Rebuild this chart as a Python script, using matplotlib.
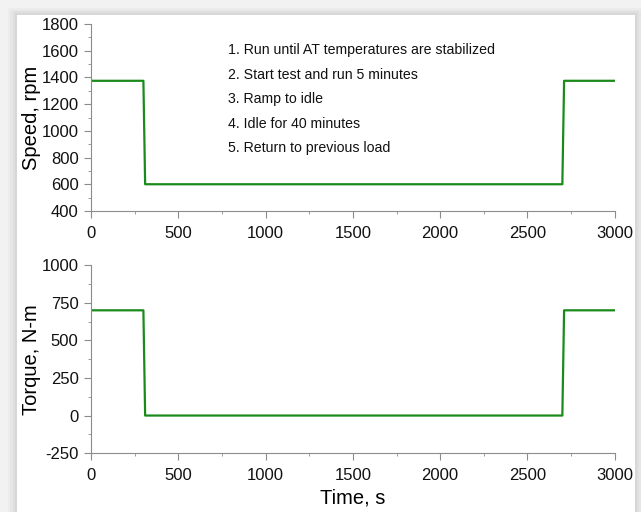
import matplotlib.pyplot as plt
from matplotlib.patches import Rectangle
from matplotlib.ticker import MultipleLocator

plt.rcParams['font.family'] = ['Liberation Sans', 'DejaVu Sans']
plt.rcParams['axes.unicode_minus'] = False

# test cycle: steady load, ramp to idle, idle, return to load
time_s = [0, 300, 310, 2700, 2710, 3000]
speed_rpm = [1375, 1375, 600, 600, 1375, 1375]
torque_nm = [700, 700, 0, 0, 700, 700]

steps = [
    "1. Run until AT temperatures are stabilized",
    "2. Start test and run 5 minutes",
    "3. Ramp to idle",
    "4. Idle for 40 minutes",
    "5. Return to previous load",
]

line_color = "#1a8a1a"
axis_color = "#8c8c8c"

fig = plt.figure(figsize=(6.41, 5.12), dpi=100, facecolor="#f2f2f2")

# white card with a soft shadow behind the plots
for i, a in enumerate([0.06, 0.07, 0.08, 0.10]):
    pad = 0.014 - i * 0.0035
    fig.patches.append(Rectangle((17 / 641 - pad, -0.1), (635 - 17) / 641 + 2 * pad,
                                 1 - 15 / 512 + 0.1 + pad, transform=fig.transFigure,
                                 facecolor="#999999", alpha=a, edgecolor="none", zorder=-10))
fig.patches.append(Rectangle((17 / 641, -0.1), (635 - 17) / 641, 1 - 15 / 512 + 0.1,
                             transform=fig.transFigure, facecolor="white",
                             edgecolor="none", zorder=-9))

ax1 = fig.add_axes([0.142, 0.588, 0.817, 0.365])
ax2 = fig.add_axes([0.142, 0.115, 0.817, 0.367])

for ax in (ax1, ax2):
    ax.set_facecolor("none")
    for s in ("top", "right"):
        ax.spines[s].set_visible(False)
    for s in ("left", "bottom"):
        ax.spines[s].set_color(axis_color)
        ax.spines[s].set_linewidth(0.8)
    ax.set_xlim(0, 3000)
    ax.xaxis.set_major_locator(MultipleLocator(500))
    ax.xaxis.set_minor_locator(MultipleLocator(250))
    ax.tick_params(which="major", direction="out", length=5, color=axis_color,
                   labelsize=12, labelcolor="#111111", pad=4)
    ax.tick_params(which="minor", direction="out", length=2.5, color=axis_color)
    ax.tick_params(axis="x", which="major", pad=6)

ax1.plot(time_s, speed_rpm, color=line_color, lw=1.6)
ax1.set_ylim(400, 1800)
ax1.yaxis.set_major_locator(MultipleLocator(200))
ax1.yaxis.set_minor_locator(MultipleLocator(100))
ax1.set_ylabel("Speed, rpm", fontsize=14.5, labelpad=0.5)

for i, s in enumerate(steps):
    ax1.text(0.262, 0.86 - i * 0.131, s, transform=ax1.transAxes, fontsize=10.2,
             va="center", ha="left", color="#111111")

ax2.plot(time_s, torque_nm, color=line_color, lw=1.6)
ax2.set_ylim(-250, 1000)
ax2.yaxis.set_major_locator(MultipleLocator(250))
ax2.yaxis.set_minor_locator(MultipleLocator(125))
ax2.set_ylabel("Torque, N-m", fontsize=14.5, labelpad=0.5)
ax2.set_xlabel("Time, s", fontsize=14.5, labelpad=4)

fig.savefig("out.png", dpi=100, facecolor=fig.get_facecolor())
